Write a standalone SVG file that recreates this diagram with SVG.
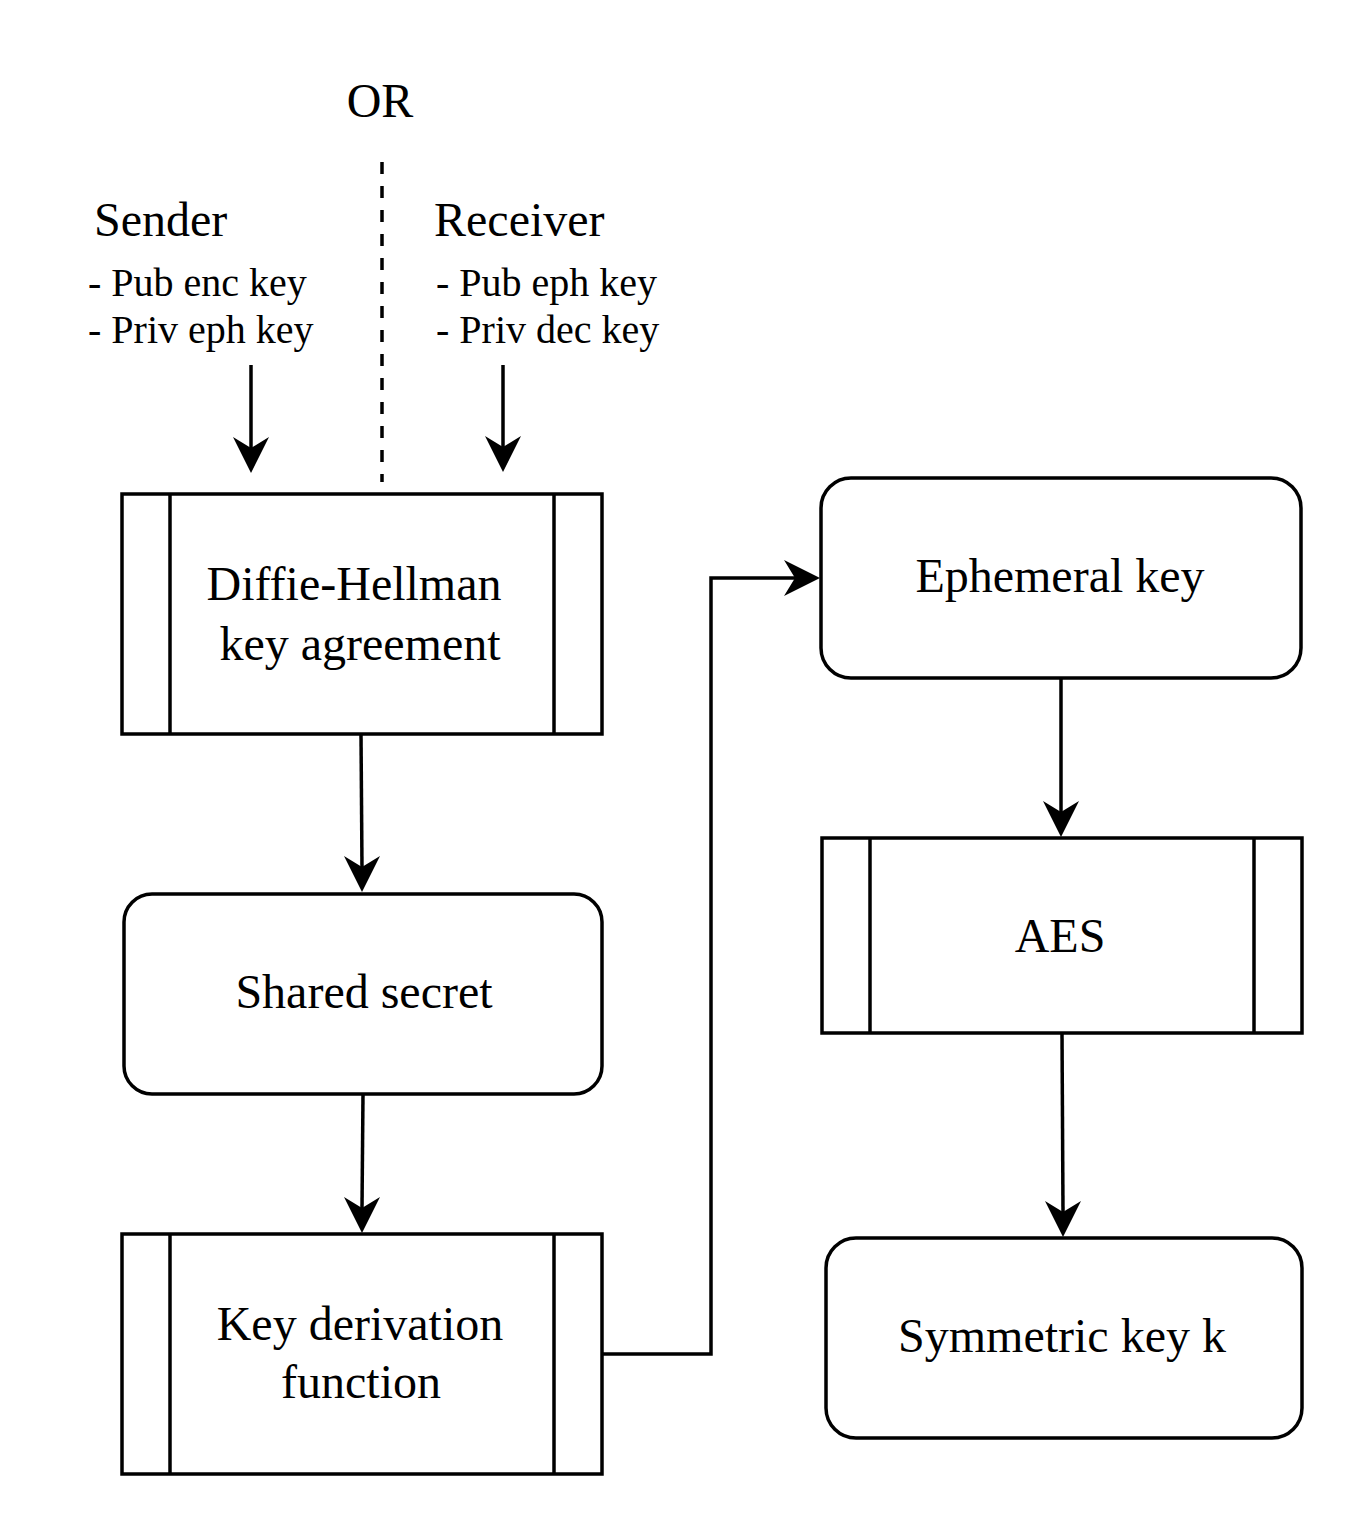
<svg xmlns="http://www.w3.org/2000/svg" xmlns:xlink="http://www.w3.org/1999/xlink" width="1348" height="1520" viewBox="0 0 1348 1520">
  <style>
    .box { fill: #ffffff; stroke: #000000; stroke-width: 3.5; }
    .sep { stroke: #000000; stroke-width: 3.5; fill: none; }
    .edge { stroke: #000000; stroke-width: 3.5; fill: none; }
    .head { fill: #000000; stroke: none; }
    .t { font-family: "Liberation Serif", "Times New Roman", serif; fill: #000000; }
    .big { font-size: 48px; }
    .small { font-size: 40px; }
    .mid { text-anchor: middle; }
  </style>
  <defs>
    <path id="ah" d="M0,0 L-36,-18 L-25,0 L-36,18 Z"/>
  </defs>
  <rect width="1348" height="1520" fill="#ffffff"/>

  <g id="labels">
    <text class="t big mid" x="380" y="117">OR</text>
    <text class="t big" x="94" y="236">Sender</text>
    <text class="t small" x="88" y="296">- Pub enc key</text>
    <text class="t small" x="88" y="343">- Priv eph key</text>
    <text class="t big" x="434" y="236">Receiver</text>
    <text class="t small" x="436" y="296">- Pub eph key</text>
    <text class="t small" x="436" y="343">- Priv dec key</text>
    <line x1="382" y1="162" x2="382" y2="482" stroke="#000000" stroke-width="3.5" stroke-dasharray="12 12"/>
  </g>

  <g id="node-dh">
    <rect class="box" x="122" y="494" width="480" height="240"/>
    <line class="sep" x1="170" y1="494" x2="170" y2="734"/>
    <line class="sep" x1="554" y1="494" x2="554" y2="734"/>
    <text class="t big mid" x="354" y="600">Diffie-Hellman</text>
    <text class="t big mid" x="360" y="660">key agreement</text>
  </g>

  <g id="node-shared">
    <rect class="box" x="124" y="894" width="478" height="200" rx="28" ry="28"/>
    <text class="t big mid" x="364" y="1008">Shared secret</text>
  </g>

  <g id="node-kdf">
    <rect class="box" x="122" y="1234" width="480" height="240"/>
    <line class="sep" x1="170" y1="1234" x2="170" y2="1474"/>
    <line class="sep" x1="554" y1="1234" x2="554" y2="1474"/>
    <text class="t big mid" x="360" y="1340">Key derivation</text>
    <text class="t big mid" x="361" y="1398">function</text>
  </g>

  <g id="node-eph">
    <rect class="box" x="821" y="478" width="480" height="200" rx="30" ry="30"/>
    <text class="t big mid" x="1060" y="592">Ephemeral key</text>
  </g>

  <g id="node-aes">
    <rect class="box" x="822" y="838" width="480" height="195"/>
    <line class="sep" x1="870" y1="838" x2="870" y2="1033"/>
    <line class="sep" x1="1254" y1="838" x2="1254" y2="1033"/>
    <text class="t big mid" x="1060" y="952">AES</text>
  </g>

  <g id="node-sym">
    <rect class="box" x="826" y="1238" width="476" height="200" rx="30" ry="30"/>
    <text class="t big mid" x="1062" y="1352">Symmetric key k</text>
  </g>

  <g id="connectors">
    <path class="edge" d="M251,365 L251,448"/>
    <use xlink:href="#ah" href="#ah" class="head" transform="translate(251,473) rotate(90)"/>
    <path class="edge" d="M503,365 L503,447"/>
    <use xlink:href="#ah" href="#ah" class="head" transform="translate(503,472) rotate(90)"/>
    <path class="edge" d="M361,734 L362,867"/>
    <use xlink:href="#ah" href="#ah" class="head" transform="translate(362,892) rotate(90)"/>
    <path class="edge" d="M363,1094 L362,1208"/>
    <use xlink:href="#ah" href="#ah" class="head" transform="translate(362,1233) rotate(90)"/>
    <path class="edge" d="M602,1354 L711,1354 L711,578 L795,578"/>
    <use xlink:href="#ah" href="#ah" class="head" transform="translate(820,578)"/>
    <path class="edge" d="M1061,678 L1061,812"/>
    <use xlink:href="#ah" href="#ah" class="head" transform="translate(1061,837) rotate(90)"/>
    <path class="edge" d="M1062,1033 L1063,1212"/>
    <use xlink:href="#ah" href="#ah" class="head" transform="translate(1063,1237) rotate(90)"/>
  </g>
</svg>
